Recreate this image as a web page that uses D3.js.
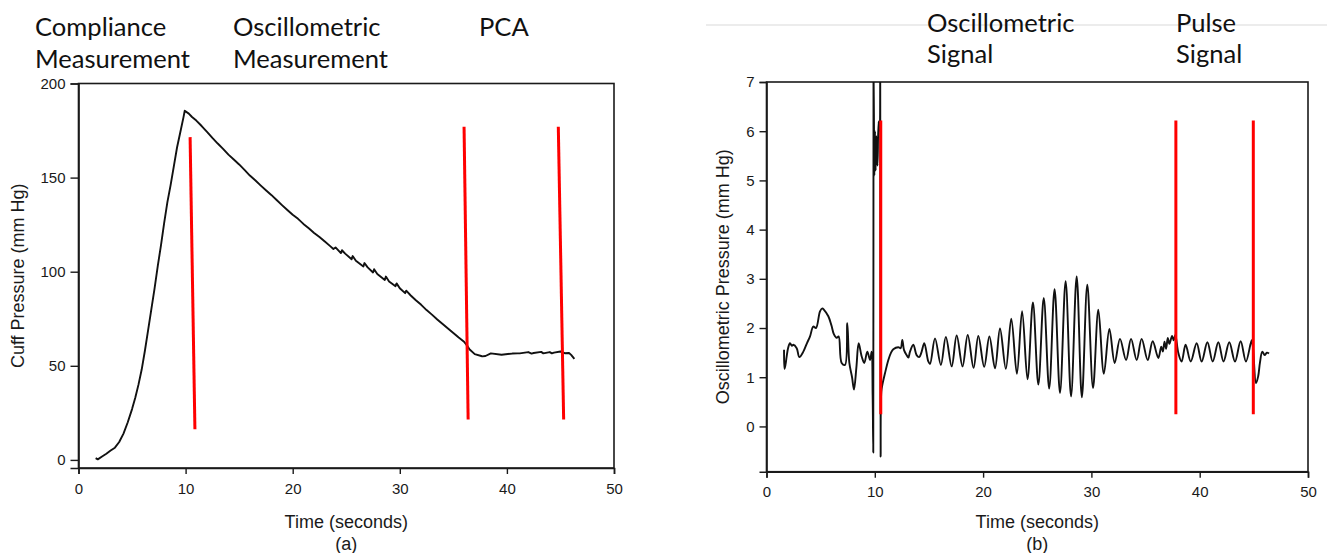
<!DOCTYPE html>
<html><head><meta charset="utf-8">
<script src="https://cdn.jsdelivr.net/npm/d3@7"></script>
<style>
body{margin:0;background:#fff;}
svg{display:block;}
</style></head><body>
<svg id="c" width="1327" height="553"></svg>
<script>
// ---------- Panel (a): cuff pressure ----------
const cuffTime = [1.6,1.8,2.2,2.6,3.0,3.4,3.8,4.2,4.6,5.0,5.3,5.6,5.9,6.2,6.5,6.8,7.1,7.4,7.7,8.0,8.3,8.6,8.9,9.2,9.5,9.8,9.92,
  10.3,10.6,11.0,11.5,12.0,12.5,13.0,13.5,14.0,14.5,15.0,15.5,16.0,16.5,17.0,17.5,18.0,18.5,19.0,19.5,20.0,20.5,21.0,21.5,22.0,22.5,23.0,23.5,
  23.8,24.0,24.5,24.6,24.9,25.5,25.6,25.9,26.6,26.7,27.0,27.5,27.6,27.9,28.6,28.7,29.0,29.6,29.7,30.0,30.5,30.6,31.0,31.5,32.0,32.5,33.0,33.5,34.0,34.5,35.0,35.5,36.0,36.3,
  36.5,37.0,37.6,37.7,38.0,38.5,39.5,40.5,41.0,41.2,42.0,42.3,42.5,43.2,43.4,44.0,44.2,44.4,45.0,45.4,45.8,46.0,46.3];
const cuffPressure = [0.9,0.3,1.8,3.3,5.0,6.5,9.5,14,20,27,33,40,48,58,69,80,91,103,114,126,137,146,156,166,174,182,185.5,
  184,182.2,180.3,177.4,174.3,171.1,168.1,165.3,162.2,159.6,157.0,154.1,151.1,148.6,145.9,143.3,140.8,138.1,135.4,132.8,130.3,128.1,125.4,123.1,120.6,118.4,116.0,113.6,
  112.1,112.9,109.9,111.4,109.6,106.6,108.3,105.8,102.8,104.6,102.3,99.6,101.3,98.8,95.6,97.4,94.8,92.3,93.8,91.2,88.6,89.9,87.5,84.8,82.4,79.6,77.2,74.6,72.2,69.8,67.4,65.0,62.8,60.6,58.8,56.2,
  55.2,55.0,55.2,56.6,55.9,56.5,56.6,56.6,57.3,56.5,56.8,57.4,56.6,57.3,56.6,57.0,57.6,56.7,56.8,55.8,53.7,53.0,51.5];
// red marker lines: top (time,value) -> bottom (time,value)
const cuffMarkTopTime = [10.42,36.0,44.8];
const cuffMarkBotTime = [10.87,36.38,45.3];
const cuffMarkTopVal = [171.5,177,177];
const cuffMarkBotVal = [16.3,21.5,21.5];
const cuffYTicks = [0,50,100,150,200];
const xTicks = [0,10,20,30,40,50];

// ---------- Panel (b): oscillometric pressure ----------
const oscTime = [1.62,1.66,1.75,1.86,2.0,2.17,2.35,2.48,2.79,3.03,3.40,3.75,4.02,4.32,4.57,4.94,5.15,5.31,5.71,6.0,6.23,6.48,6.66,6.94,7.25,7.46,7.65,7.9,8.08,8.3,8.51,8.79,9.03,9.31,9.56,9.71,9.80,
  9.86,9.88,9.92,9.96,10.02,10.08,10.15,10.25,10.35,10.45,10.50,10.54,
  10.6,10.73,10.94,11.25,11.5,11.71,12.17,12.39,12.54,12.7,12.94,13.1,13.25,13.56,13.86,14.1,14.3,14.57,14.94,15.1,15.56,16.1,16.56,17.1,17.56,18.1,18.58,19.12,19.56,20.1,20.58,21.1,21.56,22.1,22.6,23.12,23.6,24.1,24.6,25.1,25.6,26.1,26.6,27.1,27.62,28.12,28.64,29.12,29.62,30.15,30.64,31.15,31.66,32.15,32.64,33.2,33.66,34.18,34.64,35.2,35.66,36.18,36.45,36.6,36.75,36.9,37.05,37.2,37.45,37.6,37.75,
  38.03,38.33,38.7,39.17,39.72,40.18,40.71,41.2,41.72,42.2,42.73,43.26,43.78,44.27,44.8,44.92,45.2,45.4,45.56,45.78,46.0,46.2,46.4];
const oscPressure = [1.56,1.17,1.25,1.42,1.60,1.69,1.64,1.66,1.59,1.41,1.52,1.70,1.83,2.03,2.00,2.34,2.40,2.37,2.24,2.05,1.87,1.80,1.83,1.29,1.25,2.10,1.29,1.0,0.75,1.2,1.69,1.42,1.29,1.52,1.35,1.52,0.64,
  -0.53,7.3,6.3,5.1,6.0,5.2,5.9,5.3,6.2,6.0,7.3,-0.61,
  0.70,0.88,1.08,1.35,1.50,1.57,1.61,1.59,1.76,1.55,1.45,1.40,1.52,1.66,1.45,1.41,1.50,1.69,1.32,1.27,1.79,1.25,1.82,1.22,1.85,1.22,1.86,1.19,1.84,1.21,1.83,1.18,1.99,1.17,2.19,1.07,2.34,0.96,2.52,0.85,2.61,0.77,2.79,0.68,2.95,0.61,3.05,0.59,2.88,0.78,2.37,1.07,1.98,1.29,1.78,1.35,1.78,1.35,1.78,1.35,1.73,1.39,1.62,1.52,1.72,1.58,1.80,1.68,1.84,1.75,1.86,
  1.49,1.32,1.66,1.32,1.69,1.32,1.71,1.32,1.71,1.32,1.71,1.32,1.73,1.32,1.75,1.6,0.88,1.02,1.29,1.52,1.45,1.50,1.48];
const oscMarkTime = [10.55,37.8,44.95];
const oscMarkTop = [6.22,6.22,6.22];
const oscMarkBot = [0.25,0.25,0.25];
const oscYTicks = [0,1,2,3,4,5,6,7];

const svg = d3.select('#c');
const axisFont = '"Liberation Sans", Arial, sans-serif';
const headFont = 'Lato, "Open Sans", sans-serif';
const ink = '#1a1a1a';

function panel(opts){
  const x = d3.scaleLinear().domain([0,50]).range([opts.x0, opts.x1]);
  const y = d3.scaleLinear().domain(opts.yDomain).range([opts.y1, opts.y0]);
  const g = svg.append('g');
  const id = 'clip' + opts.key;
  svg.append('defs').append('clipPath').attr('id', id).append('rect')
    .attr('x', opts.x0).attr('y', opts.y0).attr('width', opts.x1 - opts.x0).attr('height', opts.y1 - opts.y0);

  // frame
  g.append('rect').attr('x', opts.x0).attr('y', opts.y0)
    .attr('width', opts.x1 - opts.x0).attr('height', opts.y1 - opts.y0)
    .attr('fill', 'none').attr('stroke', ink).attr('stroke-width', 1.6);

  const xa = g.append('g').attr('transform', `translate(0,${opts.y1})`)
    .call(d3.axisBottom(x).tickValues(xTicks).tickSize(6).tickPadding(9));
  const ya = g.append('g').attr('transform', `translate(${opts.x0},0)`)
    .call(d3.axisLeft(y).tickValues(opts.yTicks).tickSize(opts.yTickSize).tickPadding(5));
  [xa, ya].forEach(a => {
    a.select('.domain').attr('stroke', ink).attr('stroke-width', 1.6);
    a.selectAll('.tick line').attr('stroke', ink).attr('stroke-width', 1.4);
    a.selectAll('.tick text').attr('fill', ink).style('font-family', axisFont).style('font-size', '15px');
  });

  const plot = g.append('g').attr('clip-path', `url(#${id})`);
  plot.append('path').datum(opts.t.map((t, i) => [t, opts.v[i]]))
    .attr('fill', 'none').attr('stroke', '#111').attr('stroke-width', 1.9)
    .attr('stroke-linejoin', 'round')
    .attr('d', d3.line().x(d => x(d[0])).y(d => y(d[1])).curve(opts.curve));

  g.selectAll('line.mark').data(opts.marks).join('line').attr('class', 'mark')
    .attr('x1', d => x(d[0])).attr('y1', d => y(d[1]))
    .attr('x2', d => x(d[2])).attr('y2', d => y(d[3]))
    .attr('stroke', '#ff0000').attr('stroke-width', 3);

  // axis titles
  g.append('text').attr('x', (opts.x0 + opts.x1) / 2).attr('y', 528)
    .attr('text-anchor', 'middle').style('font-family', axisFont).style('font-size', '18px')
    .attr('fill', ink).text('Time (seconds)');
  g.append('text').attr('x', (opts.x0 + opts.x1) / 2).attr('y', 550)
    .attr('text-anchor', 'middle').style('font-family', axisFont).style('font-size', '18px')
    .attr('fill', ink).text(opts.sub);
  g.append('text').attr('transform', `translate(${opts.yTitleX},${(opts.y0 + opts.y1) / 2}) rotate(-90)`)
    .attr('text-anchor', 'middle').style('font-family', axisFont).style('font-size', '18px')
    .attr('fill', ink).text(opts.yTitle);
}

panel({key:'a', x0:78.5, x1:614, y0:83.5, y1:468, yDomain:[-4.3,200], yTicks:cuffYTicks, yTickSize:8,
  t:cuffTime, v:cuffPressure, curve:d3.curveLinear,
  marks: cuffMarkTopTime.map((t,i)=>[t, cuffMarkTopVal[i], cuffMarkBotTime[i], cuffMarkBotVal[i]]),
  sub:'(a)', yTitle:'Cuff Pressure (mm Hg)', yTitleX:24});

panel({key:'b', x0:766.5, x1:1308, y0:82, y1:471.7, yDomain:[-0.92,7], yTicks:oscYTicks, yTickSize:7,
  t:oscTime, v:oscPressure, curve:d3.curveCatmullRom.alpha(0.5),
  marks: oscMarkTime.map((t,i)=>[t, oscMarkTop[i], t, oscMarkBot[i]]),
  sub:'(b)', yTitle:'Oscillometric Pressure (mm Hg)', yTitleX:729});

// faint separator line above panel (b)
svg.insert('line', ':first-child').attr('x1', 706).attr('x2', 1327).attr('y1', 25).attr('y2', 25)
  .attr('stroke', '#ececec').attr('stroke-width', 2);

// header labels
const headers = [
  ['Compliance', 35, 36], ['Measurement', 35, 68],
  ['Oscillometric', 233, 36], ['Measurement', 233, 68], ['PCA', 479, 36],
  ['Oscillometric', 927, 32], ['Signal', 927, 63], ['Pulse', 1176, 32], ['Signal', 1176, 63]
];
// size header font so that "Measurement" spans about 155px
const probe = svg.append('text').style('font-family', headFont).style('font-size', '100px').text('Measurement');
const headSize = 100 * 155 / probe.node().getComputedTextLength();
probe.remove();
svg.selectAll('text.head').data(headers).join('text').attr('class', 'head')
  .attr('x', d => d[1]).attr('y', d => d[2])
  .style('font-family', headFont).style('font-size', headSize + 'px').attr('fill', '#111')
  .text(d => d[0]);
</script>
</body></html>
